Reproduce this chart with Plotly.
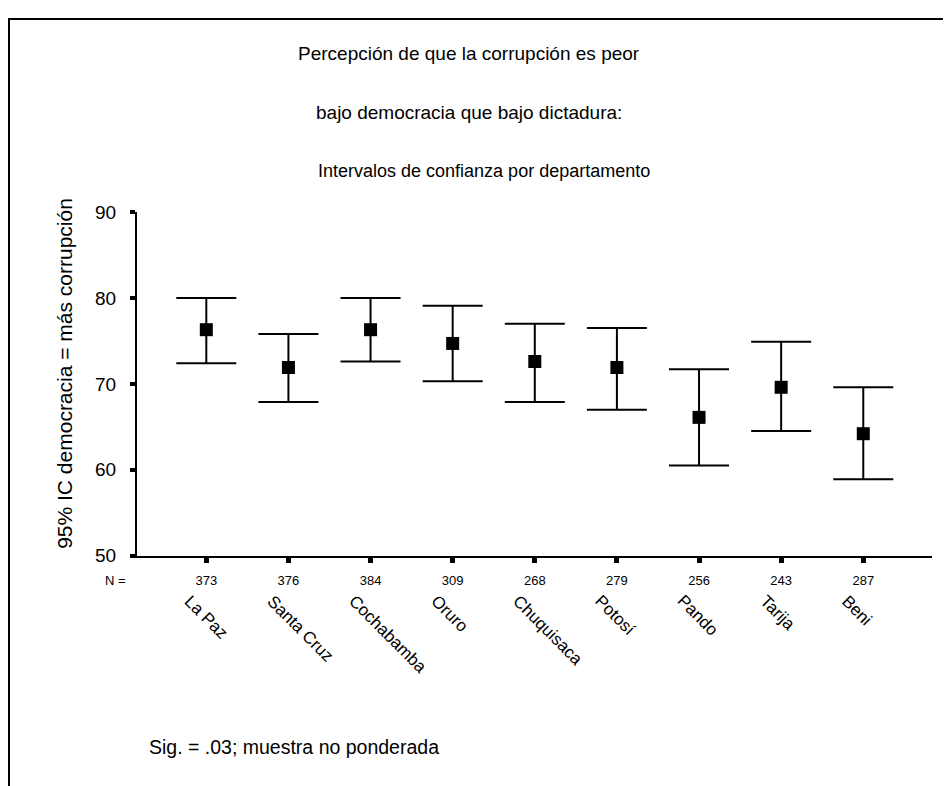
import plotly.graph_objs as go

# confidence intervals per department
departments = ['La Paz', 'Santa Cruz', 'Cochabamba', 'Oruro', 'Chuquisaca',
               'Potosí', 'Pando', 'Tarija', 'Beni']
n_sizes = [373, 376, 384, 309, 268, 279, 256, 243, 287]
means = [76.3, 71.9, 76.3, 74.7, 72.6, 71.9, 66.1, 69.6, 64.2]
upper = [80.0, 75.8, 80.0, 79.1, 77.0, 76.5, 71.7, 74.9, 69.6]
lower = [72.4, 67.9, 72.6, 70.3, 67.9, 67.0, 60.5, 64.5, 58.9]
y_ticks = [50, 60, 70, 80, 90]

# where the figure lands on the page (found by trial)
OFF_X, OFF_Y = 8, 16
SY, BY = 0.974, 1.35
W, H = 943, 790
FONT = 'Liberation Sans'


def px(x):
    return (x - OFF_X) / W


def py(y):
    y = (y - BY) / SY
    return 1 - (y - OFF_Y) / H


def txt(x, y, text, size, xanchor='center', yanchor='middle', angle=0):
    return dict(x=px(x), y=py(y), xref='paper', yref='paper', text=text,
                showarrow=False, xanchor=xanchor, yanchor=yanchor,
                textangle=angle,
                font=dict(family=FONT, size=size, color='black'))


pos = list(range(1, len(departments) + 1))

trace = go.Scatter(
    x=pos, y=means, mode='markers',
    marker=dict(symbol='square', size=13, color='black'),
    error_y=dict(type='data', symmetric=False,
                 array=[u - m for u, m in zip(upper, means)],
                 arrayminus=[m - l for m, l in zip(means, lower)],
                 color='black', thickness=2, width=30),
    showlegend=False, hoverinfo='skip')

fig = go.Figure(trace)

annots = []
# department names, rotated
for p, name in zip(pos, departments):
    annots.append(dict(x=p, xref='x', y=py(588), yref='paper', text=name,
                       textangle=45, showarrow=False, xanchor='left',
                       yanchor='top', xshift=-28,
                       font=dict(family=FONT, size=17, color='black')))

annots += [
    txt(469, 52, 'Percepción de que la corrupción es peor', 19),
    txt(469, 111, 'bajo democracia que bajo dictadura:', 19),
    txt(484, 170, 'Intervalos de confianza por departamento', 18),
    txt(147, 746, 'Sig. = .03; muestra no ponderada', 19.5, xanchor='left'),
    txt(65, 373, '95% IC democracia = más corrupción', 21, angle=-90),
    txt(128, 580, 'N =', 13, xanchor='right'),
]

fig.update_layout(
    width=W, height=H, autosize=False,
    margin=dict(l=0, r=0, t=0, b=0),
    paper_bgcolor='white', plot_bgcolor='white',
    font=dict(family=FONT, color='black'),
    annotations=annots,
    shapes=[dict(type='rect', xref='paper', yref='paper',
                 x0=1 / W, y0=-0.2, x1=1.2, y1=1 - 1 / H,
                 line=dict(color='black', width=2))],
    xaxis=dict(domain=[px(137), px(932)], range=[0.156, 9.837],
               tickvals=pos, ticktext=[str(n) for n in n_sizes],
               showgrid=False, zeroline=False, showline=True,
               linecolor='black', linewidth=2,
               ticks='outside', ticklen=5, tickwidth=5, tickcolor='black',
               tickfont=dict(family=FONT, size=13), ticklabelstandoff=7),
    yaxis=dict(domain=[py(555), py(211)], range=[50, 90],
               tickvals=y_ticks, showgrid=False, zeroline=False,
               showline=True, linecolor='black', linewidth=2,
               ticks='outside', ticklen=5, tickwidth=4, tickcolor='black',
               tickfont=dict(family=FONT, size=19), ticklabelstandoff=10),
)

fig.write_html('out.html')
